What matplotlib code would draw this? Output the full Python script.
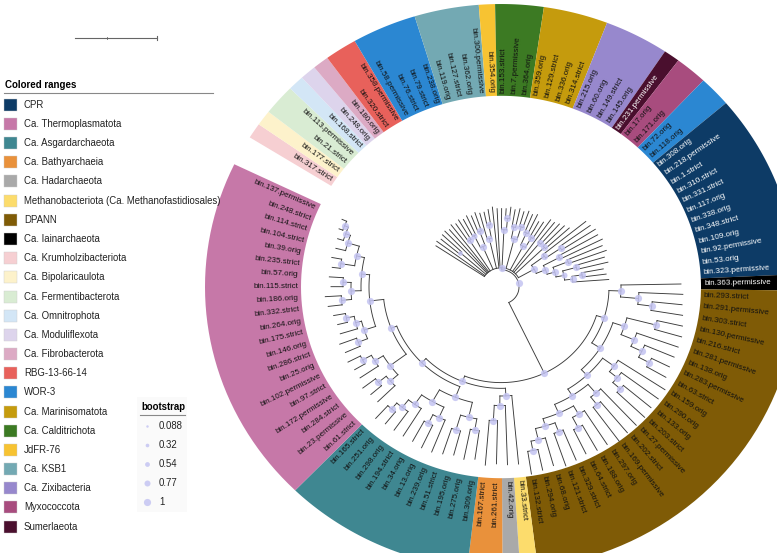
import numpy as np
import matplotlib.pyplot as plt
from matplotlib.patches import Polygon, Rectangle

plt.rcParams['font.family'] = ['Liberation Sans', 'DejaVu Sans']

# colored ranges: name and leaves (clockwise order)
groups = ["Ca. Krumholzibacteriota", "Ca. Bipolaricaulota", "Ca. Fermentibacterota",
          "Ca. Omnitrophota", "Ca. Moduliflexota", "Ca. Fibrobacterota", "RBG-13-66-14",
          "WOR-3", "Ca. KSB1", "JdFR-76", "Ca. Calditrichota", "Ca. Marinisomatota",
          "Ca. Zixibacteria", "Sumerlaeota", "Myxococcota", "WOR-3", "CPR",
          "Ca. Iainarchaeota", "DPANN", "Methanobacteriota (Ca. Methanofastidiosales)",
          "Ca. Hadarchaeota", "Ca. Bathyarchaeia", "Ca. Asgardarchaeota", "Ca. Thermoplasmatota"]
group_leaves = [
    ["bin.317.strict"], ["bin.177.strict"], ["bin.21.strict", "bin.113.permissive"],
    ["bin.168.strict"], ["bin.248.orig"], ["bin.180.orig"],
    ["bin.320.strict", "bin.358.permissive"],
    ["bin.58.permissive", "bin.76.strict", "bin.79.strict", "bin.238.orig"],
    ["bin.119.orig", "bin.127.strict", "bin.362.orig", "bin.300.permissive"],
    ["bin.354.orig"], ["bin.153.strict", "bin.7.permissive", "bin.364.orig"],
    ["bin.359.orig", "bin.129.strict", "bin.336.orig", "bin.314.strict"],
    ["bin.215.orig", "bin.60.orig", "bin.149.strict", "bin.145.orig"],
    ["bin.231.permissive"], ["bin.17.orig", "bin.171.orig"], ["bin.72.orig", "bin.118.orig"],
    ["bin.308.orig", "bin.218.permissive", "bin.1.strict", "bin.310.strict", "bin.331.strict",
     "bin.117.orig", "bin.338.orig", "bin.348.strict", "bin.109.orig", "bin.92.permissive",
     "bin.53.orig", "bin.323.permissive"],
    ["bin.363.permissive"],
    ["bin.293.strict", "bin.291.permissive", "bin.303.strict", "bin.130.permissive",
     "bin.216.strict", "bin.281.permissive", "bin.138.orig", "bin.283.permissive", "bin.63.strict",
     "bin.159.orig", "bin.290.orig", "bin.133.orig", "bin.203.strict", "bin.27.permissive",
     "bin.202.strict", "bin.169.permissive", "bin.297.orig", "bin.188.orig", "bin.64.strict",
     "bin.329.strict", "bin.121.strict", "bin.68.orig", "bin.294.orig", "bin.132.strict"],
    ["bin.33.strict"], ["bin.42.orig"], ["bin.261.strict", "bin.167.strict"],
    ["bin.309.orig", "bin.275.orig", "bin.195.orig", "bin.51.strict", "bin.239.orig",
     "bin.13.orig", "bin.34.orig", "bin.194.strict", "bin.298.orig", "bin.251.orig",
     "bin.165.strict"],
    ["bin.61.strict", "bin.23.permissive", "bin.284.strict", "bin.172.permissive",
     "bin.97.strict", "bin.102.permissive", "bin.25.orig", "bin.286.strict", "bin.146.orig",
     "bin.175.strict", "bin.264.orig", "bin.332.strict", "bin.186.orig", "bin.115.strict",
     "bin.57.orig", "bin.235.strict", "bin.39.orig", "bin.104.strict", "bin.114.strict",
     "bin.248.strict", "bin.137.permissive"],
]

legend_names = ["CPR", "Ca. Thermoplasmatota", "Ca. Asgardarchaeota", "Ca. Bathyarchaeia",
                "Ca. Hadarchaeota", "Methanobacteriota (Ca. Methanofastidiosales)", "DPANN",
                "Ca. Iainarchaeota", "Ca. Krumholzibacteriota", "Ca. Bipolaricaulota",
                "Ca. Fermentibacterota", "Ca. Omnitrophota", "Ca. Moduliflexota",
                "Ca. Fibrobacterota", "RBG-13-66-14", "WOR-3", "Ca. Marinisomatota",
                "Ca. Calditrichota", "JdFR-76", "Ca. KSB1", "Ca. Zixibacteria", "Myxococcota",
                "Sumerlaeota"]
legend_colors = ["#0d3b66", "#c678a8", "#3f8791", "#e9913b", "#a9a9a9", "#fcdc6c", "#7f5b06",
                 "#000000", "#f6cfd2", "#fdf2cb", "#d9ecd3", "#d3e6f6", "#ddd4ec", "#dcaac4",
                 "#e8615b", "#2b87d2", "#c59b0d", "#3c7a23", "#f7c332", "#73a9b3", "#9788cd",
                 "#a84c7e", "#4a0f2e"]
white_text = ["CPR", "Ca. Iainarchaeota", "Sumerlaeota"]

boot_values = [0.088, 0.32, 0.54, 0.77, 1]

# tree (branch lengths in pixels, node labels = bootstrap)
CPR = ("((bin.308.orig:55,(bin.218.permissive:38,bin.1.strict:40)1:18)1:16,"
       "((bin.310.strict:45,bin.331.strict:47)1:18,((bin.117.orig:38,bin.338.orig:40)1:16,"
       "((bin.348.strict:30,bin.109.orig:32)1:14,((bin.92.permissive:22,bin.53.orig:24)1:10,"
       "bin.323.permissive:36)1:8)0.77:8)1:8)1:10)1:18")
BACT = ("(bin.317.strict:58,bin.177.strict:60,(bin.21.strict:24,bin.113.permissive:26)0.54:34,"
        "bin.168.strict:61,bin.248.orig:59,bin.180.orig:62,"
        "(bin.320.strict:22,bin.358.permissive:24)1:38,"
        "((bin.58.permissive:20,bin.76.strict:22)0.77:14,(bin.79.strict:18,bin.238.orig:20)1:16)1:26,"
        "(bin.119.orig:28,(bin.127.strict:14,bin.362.orig:16)1:14)1:32,"
        "bin.300.permissive:64,bin.354.orig:62,"
        "(bin.153.strict:22,(bin.7.permissive:10,bin.364.orig:12)1:12)1:40,"
        "((bin.359.orig:18,bin.129.strict:20)1:12,(bin.336.orig:16,bin.314.strict:18)1:14)1:32,"
        "((bin.215.orig:20,bin.60.orig:22)1:14,(bin.149.strict:18,bin.145.orig:20)1:12)1:28,"
        "bin.231.permissive:66,(bin.17.orig:26,bin.171.orig:28)1:40,"
        "(bin.72.orig:30,bin.118.orig:32)1:40," + CPR + ")1:2")
DP = ("((bin.363.permissive:60,(bin.293.strict:44,(bin.291.permissive:30,bin.303.strict:32)1:14)1:18)1:12,"
      "(((bin.130.permissive:26,bin.216.strict:28)1:30,(bin.281.permissive:44,(bin.138.orig:32,"
      "(bin.283.permissive:20,bin.63.strict:22)1:12)1:12)1:14)1:12,"
      "((bin.159.orig:56,(bin.290.orig:46,(bin.133.orig:36,bin.203.strict:38)1:10)1:10)1:14,"
      "((bin.27.permissive:52,(bin.202.strict:42,bin.169.permissive:44)1:10)1:12,"
      "((bin.297.orig:42,(bin.188.orig:30,bin.64.strict:28)1:12)1:10,"
      "((bin.329.strict:34,bin.121.strict:36)1:10,(bin.68.orig:30,(bin.294.orig:22,bin.132.strict:24)1:10)1:12)1:8)1:10)1:8)1:8)1:10)1:8")
MHB = "(bin.33.strict:72,(bin.42.orig:62,(bin.261.strict:45,bin.167.strict:47)1:16)1:10)1:8"
ASG = ("(((bin.309.orig:30,bin.275.orig:32)1:12,(bin.195.orig:26,bin.51.strict:28)1:16)1:16,"
       "((bin.239.orig:36,(bin.13.orig:26,bin.34.orig:24)1:10)1:12,(bin.194.strict:34,"
       "(bin.298.orig:24,(bin.251.orig:16,bin.165.strict:18)1:8)1:10)1:12)1:14)1:12")
THERMO = ("(((bin.61.strict:24,(bin.23.permissive:14,bin.284.strict:16)1:10)1:10,"
          "(bin.172.permissive:22,(bin.97.strict:12,bin.102.permissive:14)1:10)1:10)1:20,"
          "(((bin.25.orig:16,bin.286.strict:18)1:10,(bin.146.orig:18,(bin.175.strict:10,bin.264.orig:12)1:8)1:6)1:12,"
          "(((bin.332.strict:14,bin.186.orig:16)1:10,(bin.115.strict:12,bin.57.orig:14)1:8)1:10,"
          "((bin.235.strict:8,bin.39.orig:10)1:14,(bin.104.strict:10,(bin.114.strict:6,"
          "(bin.248.strict:4,bin.137.permissive:5)1:4)1:5)1:12)1:8)1:8)1:14)1:6")
ARCH = "(" + DP + ",(" + MHB + ",(" + ASG + "," + THERMO + ")1:6)1:6)1:82"
NEWICK = "(" + BACT + "," + ARCH + ")1:18;"

# layout constants (pixels, degrees)
W, H = 777, 553
CX, CY, K = 501, 287, 0.956
R_IN, R_OUT = 200, 296
ANCHOR_IDX = [0, 46, 72, 106]
ANCHOR_ANG = [146.5, 1.0, -88.0, -204.0]

n_leaves = sum(len(g) for g in group_leaves)
leaf_ang = np.interp(np.arange(n_leaves), ANCHOR_IDX, ANCHOR_ANG)
mid = (leaf_ang[:-1] + leaf_ang[1:]) / 2
edges = np.r_[leaf_ang[0] + (leaf_ang[0] - leaf_ang[1]) / 2, mid,
              leaf_ang[-1] - (leaf_ang[-2] - leaf_ang[-1]) / 2]


def parse(s):
    s = s.replace(" ", "").rstrip(";")
    pos = 0

    def node():
        nonlocal pos
        kids = []
        if s[pos] == "(":
            pos += 1
            while True:
                kids.append(node())
                if s[pos] == ",":
                    pos += 1
                    continue
                pos += 1
                break
        start = pos
        while pos < len(s) and s[pos] not in ":,()":
            pos += 1
        label = s[start:pos]
        length = 0.0
        if pos < len(s) and s[pos] == ":":
            pos += 1
            start = pos
            while pos < len(s) and s[pos] not in ",()":
                pos += 1
            length = float(s[start:pos])
        return {"label": label, "len": length, "kids": kids}

    return node()


tree = parse(NEWICK)
leaves = []


def layout(n, r0):
    n["r"] = r0 + n["len"]
    if not n["kids"]:
        n["a"] = leaf_ang[len(leaves)]
        leaves.append(n)
        return
    for k in n["kids"]:
        layout(k, n["r"])
    n["a"] = (n["kids"][0]["a"] + n["kids"][-1]["a"]) / 2


layout(tree, 0)


def xy(r, a):
    t = np.radians(a)
    return r * np.cos(t), r * np.sin(t)


fig = plt.figure(figsize=(W / 100, H / 100), dpi=100)
ax = fig.add_axes([0, 0, 1, 1])
ax.set_xlim(-CX, W - CX)
ax.set_ylim(-(H - CY) / K, CY / K)
ax.axis("off")

lc = "#3a3a3a"
nodes = []


def draw(n):
    if not n["kids"]:
        return
    a1, a2 = n["kids"][0]["a"], n["kids"][-1]["a"]
    aa = np.linspace(a1, a2, 60)
    ax.plot(*xy(n["r"], aa), color=lc, lw=0.65, zorder=2)
    for k in n["kids"]:
        ax.plot(*xy(np.array([n["r"], k["r"]]), k["a"]), color=lc, lw=0.65, zorder=2)
        draw(k)
    nodes.append(n)


draw(tree)


def dot_ms(v):
    return (2 + 5.2 * v) * 0.72


for n in nodes:
    if n["label"]:
        x, y = xy(n["r"], n["a"])
        ax.plot(x, y, "o", ms=dot_ms(float(n["label"])), mfc="#c4c4f2", mec="none",
                alpha=0.85, zorder=3)

# colored ranges + labels
color_of = dict(zip(legend_names, legend_colors))
leaf_index = {n["label"]: i for i, n in enumerate(leaves)}
for g, names in zip(groups, group_leaves):
    i0, i1 = leaf_index[names[0]], leaf_index[names[-1]]
    aa = np.linspace(edges[i0], edges[i1 + 1], 40)
    xo, yo = xy(R_OUT, aa)
    xi, yi = xy(R_IN, aa[::-1])
    ax.add_patch(Polygon(np.column_stack([np.r_[xo, xi], np.r_[yo, yi]]),
                         closed=True, fc=color_of[g], ec="none", zorder=1))
    tc = "white" if g in white_text else "#111111"
    for nm in names:
        a = leaves[leaf_index[nm]]["a"]
        t = np.radians(a)
        rot = np.degrees(np.arctan2(K * np.sin(t), np.cos(t)))
        x, y = xy(R_IN + 3, a)
        if np.cos(t) >= 0:
            ax.text(x, y, nm, rotation=rot, rotation_mode="anchor", ha="left",
                    va="center", fontsize=5.8, color=tc, zorder=4)
        else:
            ax.text(x, y, nm, rotation=rot + 180, rotation_mode="anchor", ha="right",
                    va="center", fontsize=5.8, color=tc, zorder=4)


def fx(x):
    return x / W


def fy(y):
    return 1 - y / H


# scale bar
fig.add_artist(plt.Line2D([fx(75), fx(157)], [fy(38), fy(38)], color="#666666", lw=0.8))
fig.add_artist(plt.Line2D([fx(157), fx(157)], [fy(36), fy(40)], color="#666666", lw=0.8))
fig.add_artist(plt.Line2D([fx(107), fx(107)], [fy(37), fy(39)], color="#666666", lw=0.6))

# colored ranges legend
fig.text(fx(5), fy(85), "Colored ranges", fontsize=7, fontweight="bold", va="center")
fig.add_artist(plt.Line2D([fx(4), fx(213)], [fy(93), fy(93)], color="#888888", lw=0.8))
for i, (nm, c) in enumerate(zip(legend_names, legend_colors)):
    yc = 104.7 + i * 19.18
    fig.add_artist(Rectangle((fx(4), fy(yc + 6)), 13 / W, 12 / H, fc=c, ec="#cccccc",
                             lw=0.3, transform=fig.transFigure))
    fig.text(fx(24), fy(yc), nm, fontsize=6.9, va="center", color="#222222")

# bootstrap legend
fig.add_artist(Rectangle((fx(137), fy(512)), 50 / W, 115 / H, fc="#fafafa", ec="none",
                         transform=fig.transFigure))
fig.text(fx(141), fy(406.5), "bootstrap", fontsize=6.9, fontweight="bold", va="center")
fig.add_artist(plt.Line2D([fx(140), fx(185)], [fy(415), fy(415)], color="#888888", lw=0.8))
for i, v in enumerate(boot_values):
    yc = 426 + i * 19
    fig.add_artist(plt.Line2D([fx(146.5)], [fy(yc)], marker="o", ls="none",
                              ms=dot_ms(v), mfc="#c4c4f2", mec="none", alpha=0.85))
    fig.text(fx(159), fy(yc), f"{v:g}", fontsize=6.9, va="center", color="#222222")

fig.savefig("out.png", dpi=100)
